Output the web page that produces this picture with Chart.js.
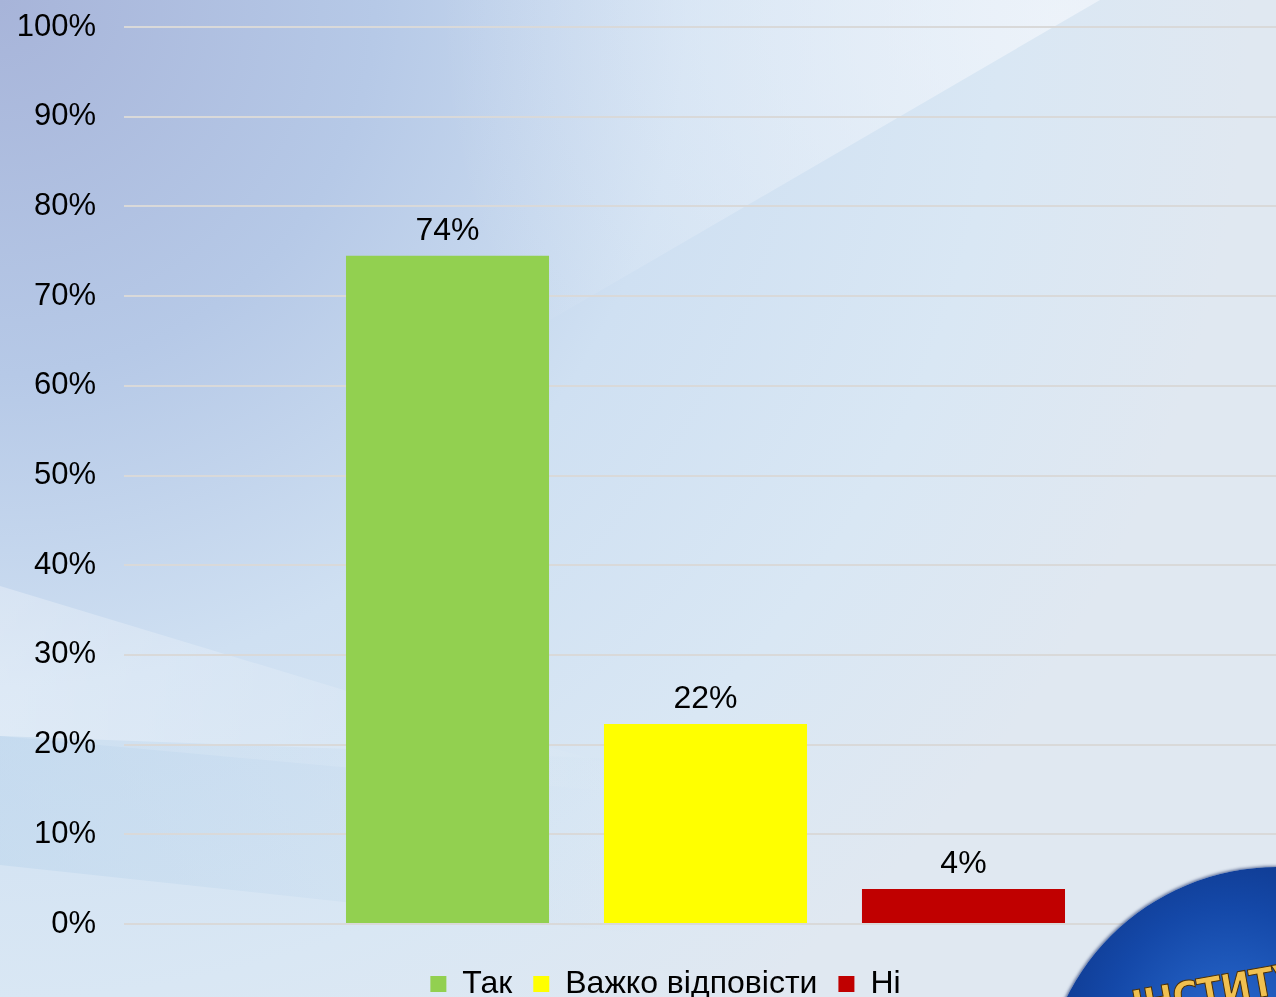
<!DOCTYPE html>
<html>
<head>
<meta charset="utf-8">
<script src="https://cdn.jsdelivr.net/npm/chart.js@4"></script>
<style>
  html, body { margin: 0; padding: 0; width: 1276px; height: 997px; overflow: hidden; }
  body { position: relative; font-family: "Liberation Sans", Arial, sans-serif; background: #d6e4f3; }
  #bg { position: absolute; left: 0; top: 0; }
  #wrap { position: absolute; left: 0; top: 0; width: 1287px; height: 997px; }
  #logo {
    position: absolute; left: 1042px; top: 867px; width: 470px; height: 470px;
    border-radius: 50%;
    background: radial-gradient(circle at 40% 35%, #2a6bd0 0%, #1448a8 30%, #0a2c78 60%, #051848 100%);
    box-shadow: -1px -1px 3px rgba(20,40,100,0.6);
    overflow: hidden;
  }
  #logo span {
    position: absolute; left: 86px; top: 116px;
    font: bold 40px "DejaVu Sans Condensed", "DejaVu Sans", sans-serif; color: #f0c050;
    transform: rotate(-10deg); transform-origin: left top;
    -webkit-text-stroke: 1px #4a2e05; letter-spacing: -1px;
  }
</style>
</head>
<body>
<svg id="bg" width="1276" height="997" xmlns="http://www.w3.org/2000/svg">
  <defs>
    <radialGradient id="base" cx="0" cy="0" r="1250" gradientUnits="userSpaceOnUse">
      <stop offset="0" stop-color="#a7b4d9"/>
      <stop offset="0.3" stop-color="#b6c9e7"/>
      <stop offset="0.55" stop-color="#cfe0f2"/>
      <stop offset="0.8" stop-color="#d9e7f4"/>
      <stop offset="1" stop-color="#e0e8f1"/>
    </radialGradient>
    <radialGradient id="wedge" cx="1060" cy="20" r="620" gradientUnits="userSpaceOnUse">
      <stop offset="0" stop-color="#f4f7fc" stop-opacity="0.7"/>
      <stop offset="1" stop-color="#f4f7fc" stop-opacity="0"/>
    </radialGradient>
    <linearGradient id="band" x1="0" y1="0" x2="650" y2="0" gradientUnits="userSpaceOnUse">
      <stop offset="0" stop-color="#ffffff" stop-opacity="0.3"/>
      <stop offset="1" stop-color="#ffffff" stop-opacity="0"/>
    </linearGradient>
    <linearGradient id="blue" x1="0" y1="0" x2="650" y2="0" gradientUnits="userSpaceOnUse">
      <stop offset="0" stop-color="#b8d3eb" stop-opacity="0.45"/>
      <stop offset="1" stop-color="#b8d3eb" stop-opacity="0"/>
    </linearGradient>
  </defs>
  <rect width="1276" height="997" fill="url(#base)"/>
  <polygon points="1100,0 550,320 0,640 0,0" fill="url(#wedge)"/>
  <polygon points="0,586 347,691 650,775 650,795 0,736" fill="url(#band)"/>
  <polygon points="0,736 650,760 650,935 0,865" fill="url(#blue)"/>
</svg>
<div id="wrap"><canvas id="chart"></canvas></div>
<div id="logo"><span>ІНСТИТУТ</span></div>
<script>
const categories = [''];
const seriesNames = ['Так', 'Важко відповісти', 'Ні'];
const seriesValues = [74.5, 22.3, 3.9];
const valueLabels = ['74%', '22%', '4%'];
const seriesColors = ['#92d050', '#ffff00', '#c00000'];
const yTicks = [0, 10, 20, 30, 40, 50, 60, 70, 80, 90, 100];

const barLabels = {
  id: 'barLabels',
  afterDatasetsDraw(chart) {
    const ctx = chart.ctx;
    ctx.save();
    ctx.font = '32px "Liberation Sans", Arial, sans-serif';
    ctx.fillStyle = '#000';
    ctx.textAlign = 'center';
    ctx.textBaseline = 'alphabetic';
    chart.data.datasets.forEach((ds, i) => {
      const bar = chart.getDatasetMeta(i).data[0];
      ctx.fillText(valueLabels[i], bar.x, bar.y - 16);
    });
    ctx.restore();
  }
};

// legend sits a little right of the canvas centre in the original
const legendShift = {
  id: 'legendShift',
  afterLayout(chart) {
    chart.legend.left += 22;
    chart.legend.right += 22;
  }
};

new Chart(document.getElementById('chart'), {
  type: 'bar',
  data: {
    labels: categories,
    datasets: seriesNames.map((name, i) => ({
      label: name,
      data: [seriesValues[i]],
      backgroundColor: seriesColors[i],
      borderWidth: 0,
      barPercentage: 0.787,
      categoryPercentage: 0.6655
    }))
  },
  options: {
    responsive: true,
    maintainAspectRatio: false,
    animation: false,
    layout: { padding: { top: 0, right: 0, bottom: -13, left: 0 } },
    plugins: {
      tooltip: { enabled: false },
      legend: {
        position: 'bottom',
        labels: {
          color: '#000',
          font: { family: '"Liberation Sans", Arial, sans-serif', size: 32 },
          boxWidth: 16,
          boxHeight: 16,
          padding: 21
        }
      }
    },
    scales: {
      x: {
        grid: { display: false },
        border: { display: false },
        ticks: { display: false },
        afterFit(scale) { scale.height = 23; }
      },
      y: {
        min: 0,
        max: 100,
        afterBuildTicks(scale) { scale.ticks = yTicks.map(v => ({ value: v })); },
        afterFit(scale) {
          scale.width = 124;
          scale.paddingTop = 27;
          scale.paddingBottom = 0;
        },
        grid: { color: '#d9d9d9', lineWidth: 2, drawTicks: false },
        border: { display: false },
        ticks: {
          color: '#000',
          padding: 28,
          font: { family: '"Liberation Sans", Arial, sans-serif', size: 31 },
          callback: v => v + '%'
        }
      }
    }
  },
  plugins: [barLabels, legendShift]
});
</script>
</body>
</html>
